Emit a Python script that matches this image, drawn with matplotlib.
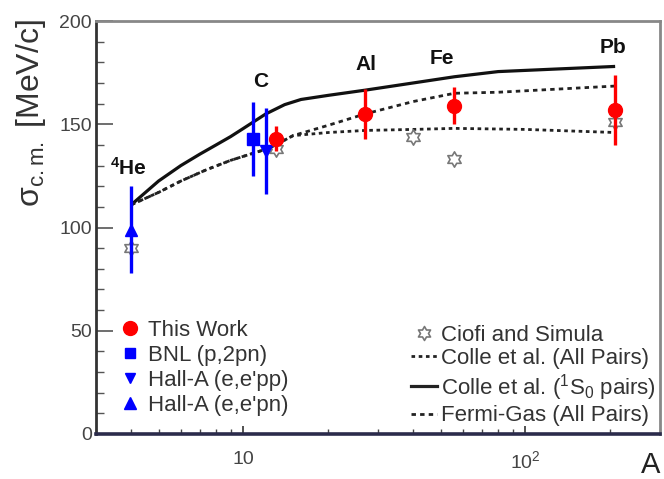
import numpy as np
import matplotlib
matplotlib.use("Agg")
import matplotlib.pyplot as plt
from matplotlib.path import Path
from matplotlib.lines import Line2D
from matplotlib.ticker import FixedLocator, LogLocator, MultipleLocator, NullFormatter

plt.rcParams['font.family'] = ['Liberation Sans', 'DejaVu Sans']
plt.rcParams['mathtext.fontset'] = 'custom'
plt.rcParams['mathtext.rm'] = 'Liberation Sans'
plt.rcParams['mathtext.it'] = 'Liberation Sans:italic'
plt.rcParams['mathtext.bf'] = 'Liberation Sans:bold'

# measured sigma_cm (MeV/c) vs mass number A
this_A = [13, 27, 56, 208]
this_sig = [143, 155, 159, 157]
this_err = [6, 12, 9, 17]

bnl_A = [10.8]
bnl_sig = [143]
bnl_err = [18]

hallpp_A = [12]
hallpp_sig = [137]
hallpp_err = [21]

hallpn_A = [4]
hallpn_sig = [99]
hallpn_err = [21]

ciofi_A = [4, 13, 40, 56, 208]
ciofi_sig = [90, 138, 144, 133, 151]

# model curves
colle_all_A = [4, 5, 6, 7.4, 9, 12.4, 15, 20, 27, 40, 56, 100, 208]
colle_all_sig = [111, 117, 122.5, 128, 132.5, 138.5, 144.5, 146, 147, 147.5, 148, 147.5, 146]

colle_1s0_A = [4, 5, 6, 7, 8, 9, 10, 12, 14, 16, 20, 27, 40, 56, 80, 208]
colle_1s0_sig = [111, 122.5, 130, 135.5, 140, 144, 148, 155, 159.5, 162, 164, 166.5,
                 170, 173, 175.5, 178]

fermi_A = [4, 5, 6, 7.4, 9, 12.4, 15, 20, 27, 40, 56, 80, 208]
fermi_sig = [111, 117, 122.5, 128, 132.5, 138.5, 144.5, 149.5, 155, 161, 165, 165.5, 168.5]

nuclei = [r'$^{\mathbf{4}}$He', 'C', 'Al', 'Fe', 'Pb']
nuc_A = [3.9, 11.5, 27.1, 50.4, 205]
nuc_y = [129, 170.5, 179, 182, 187]

# six-pointed star marker
ang = np.pi / 2 + np.arange(12) * np.pi / 6
rad = np.where(np.arange(12) % 2 == 0, 1.0, 0.577)
star_verts = np.column_stack([rad * np.cos(ang), rad * np.sin(ang)])
star = Path(np.vstack([star_verts, star_verts[:1]]), closed=True)

fig = plt.figure(figsize=(6.64, 4.79), dpi=100)
ax = fig.add_axes([96 / 664, 1 - 434 / 479, 564 / 664, 413 / 479])

ax.plot(colle_1s0_A, colle_1s0_sig, color='#111111', lw=2.3, solid_capstyle='butt')
ax.plot(colle_all_A, colle_all_sig, color='#222222', lw=2, dashes=(1.3, 1.3))
ax.plot(fermi_A, fermi_sig, color='#222222', lw=2, dashes=(1.6, 1.5))

ax.plot(ciofi_A, ciofi_sig, ls='none', marker=star, ms=11, mfc='none',
        mec='#777777', mew=1.2)

ebkw = dict(ls='none', elinewidth=2.4, capsize=0)
ax.errorbar(hallpn_A, hallpn_sig, yerr=hallpn_err, fmt='^', color='#0000ff', ms=9, **ebkw)
ax.errorbar(bnl_A, bnl_sig, yerr=bnl_err, fmt='s', color='#0000ff', ms=8, **ebkw)
ax.errorbar(hallpp_A, hallpp_sig, yerr=hallpp_err, fmt='v', color='#0000ff', ms=8, **ebkw)
ax.errorbar(this_A, this_sig, yerr=this_err, fmt='o', color='#ff0000', ms=10, **ebkw)

for name, a, y in zip(nuclei, nuc_A, nuc_y):
    ax.text(a, y, name, ha='center', va='center', fontsize=15,
            fontweight='bold', color='#111111')

ax.set_xscale('log')
ax.set_xlim(3, 300)
ax.set_ylim(0, 200)

ax.xaxis.set_major_locator(FixedLocator([10, 100]))
ax.set_xticklabels(['10', r'$10^{2}$'])
ax.xaxis.set_minor_locator(LogLocator(base=10, subs=np.arange(2, 10)))
ax.xaxis.set_minor_formatter(NullFormatter())
ax.yaxis.set_major_locator(MultipleLocator(50))
ax.yaxis.set_minor_locator(MultipleLocator(10))

ax.tick_params(axis='x', which='major', direction='in', length=6, width=1.2,
               pad=12, labelsize=14, labelcolor='#444444', color='#333333')
ax.tick_params(axis='x', which='minor', direction='in', length=3.5, width=1,
               color='#444444')
ax.tick_params(axis='y', which='major', direction='in', length=12, width=1.2,
               pad=3, labelsize=14, labelcolor='#444444', color='#555555')
ax.tick_params(axis='y', which='minor', direction='in', length=6, width=1,
               color='#555555')

ax.spines['left'].set_color('#333333')
ax.spines['left'].set_linewidth(2)
ax.spines['bottom'].set_color('#2b2b4b')
ax.spines['bottom'].set_linewidth(2.6)
ax.spines['top'].set_color('#888888')
ax.spines['top'].set_linewidth(2)
ax.spines['right'].set_color('#888888')
ax.spines['right'].set_linewidth(2)

fig.text(31 / 664, 1 - 19 / 479, r'σ$_{\mathrm{c.m.}}$ [MeV/c]', rotation=90,
         ha='center', va='top', fontsize=23, color='#333333')
fig.text(660 / 664, 1 - 465 / 479, 'A', ha='right', va='center',
         fontsize=21, color='#222222')

left_handles = [
    Line2D([], [], ls='none', marker='o', color='#ff0000', ms=10),
    Line2D([], [], ls='none', marker='s', color='#0000ff', ms=7),
    Line2D([], [], ls='none', marker='v', color='#0000ff', ms=7),
    Line2D([], [], ls='none', marker='^', color='#0000ff', ms=8),
]
left_labels = ['This Work', 'BNL (p,2pn)', "Hall-A (e,e'pp)", "Hall-A (e,e'pn)"]
leg1 = ax.legend(left_handles, left_labels, loc='upper left',
                 bbox_to_anchor=(0.02, 0.304), frameon=False, fontsize=16,
                 handlelength=1.0, handletextpad=0.35, labelspacing=0.18,
                 borderpad=0, labelcolor='#333333')
ax.add_artist(leg1)

right_handles = [
    Line2D([], [], ls='none', marker=star, ms=10, mfc='none', mec='#777777', mew=1.2),
    Line2D([], [], color='#222222', lw=2, dashes=(1.3, 1.3)),
    Line2D([], [], color='#222222', lw=2.3),
    Line2D([], [], color='#222222', lw=2, dashes=(1.6, 1.5)),
]
right_labels = ['Ciofi and Simula', 'Colle et al. (All Pairs)',
                r'Colle et al. ($^{1}$S$_{0}$ pairs)', 'Fermi-Gas (All Pairs)']
ax.legend(right_handles, right_labels, loc='upper right',
          bbox_to_anchor=(1.012, 0.292), frameon=False, fontsize=16,
          handlelength=1.2, handletextpad=0.15, labelspacing=0.12,
          borderpad=0, labelcolor='#333333')

fig.savefig('out.png', dpi=100)
